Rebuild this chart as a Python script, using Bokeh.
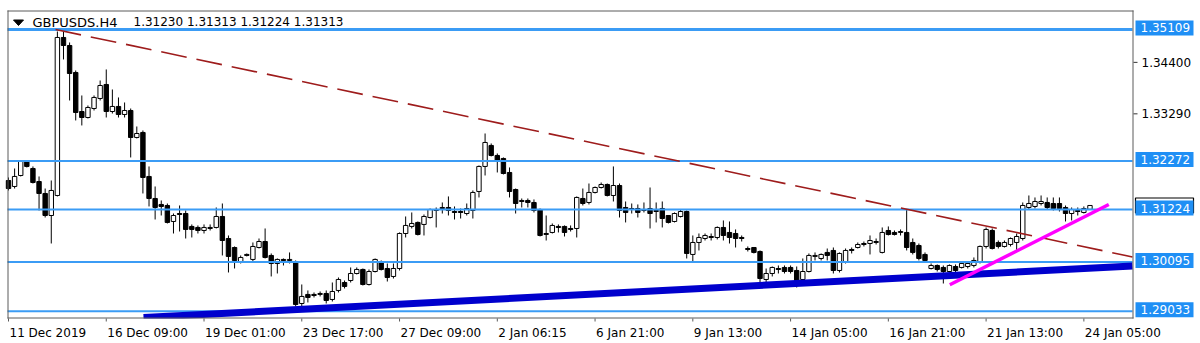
from bokeh.plotting import figure
from bokeh.models import Range1d, ColumnDataSource
from bokeh.core.properties import value
from bokeh.embed import file_html
from bokeh.resources import INLINE

symbol = "GBPUSDS.H4"
ohlc_text = "1.31230 1.31313 1.31224 1.31313"

opens = [1.31852, 1.31723, 1.31960, 1.32262, 1.32111, 1.31830, 1.31572, 1.31097, 1.31529, 1.34937,
         1.34764, 1.34182, 1.33340, 1.33211, 1.33405, 1.33621, 1.33923, 1.33340, 1.33449, 1.33276,
         1.33362, 1.32780, 1.32888, 1.31939, 1.31464, 1.31335, 1.31313, 1.30968, 1.31140, 1.31140,
         1.30861, 1.30839, 1.30774, 1.30817, 1.30839, 1.31076, 1.30601, 1.30407, 1.30105, 1.30235,
         1.30149, 1.30407, 1.30536, 1.30235, 1.30062, 1.30149, 1.30127, 1.30084, 1.29199, 1.29394,
         1.29394, 1.29394, 1.29415, 1.29286, 1.29480, 1.29652, 1.29695, 1.29846, 1.29933, 1.29609,
         1.29889, 1.30084, 1.29954, 1.29782, 1.29954, 1.30709, 1.30861, 1.30947, 1.30904, 1.31054,
         1.31205, 1.31248, 1.31270, 1.31183, 1.31183, 1.31140, 1.31205, 1.31615, 1.32155, 1.32608,
         1.32392, 1.32327, 1.32025, 1.31658, 1.31399, 1.31421, 1.31378, 1.31227, 1.30688, 1.30731,
         1.30861, 1.30861, 1.30817, 1.30817, 1.31464, 1.31378, 1.31594, 1.31701, 1.31766, 1.31529,
         1.31744, 1.31270, 1.31248, 1.31248, 1.31205, 1.31248, 1.31183, 1.31248, 1.31097, 1.30968,
         1.31076, 1.31183, 1.30257, 1.30515, 1.30601, 1.30644, 1.30623, 1.30839, 1.30731, 1.30709,
         1.30623, 1.30385, 1.30407, 1.30321, 1.29717, 1.29846, 1.29954, 1.29976, 1.29976, 1.29911,
         1.29717, 1.29889, 1.30214, 1.30170, 1.30300, 1.30343, 1.29911, 1.30084, 1.30364, 1.30407,
         1.30493, 1.30493, 1.30515, 1.30300, 1.30774, 1.30731, 1.30731, 1.30731, 1.30515, 1.30450,
         1.30257, 1.29954, 1.30019, 1.29976, 1.29889, 1.29997, 1.29976, 1.29997, 1.30019, 1.30084,
         1.30429, 1.30774, 1.30515, 1.30429, 1.30472, 1.30515, 1.30601, 1.31270, 1.31292, 1.31356,
         1.31378, 1.31356, 1.31356, 1.31270, 1.31140, 1.31205, 1.31162, 1.31230]

highs = [1.31917, 1.32111, 1.32284, 1.32284, 1.32155, 1.31939, 1.31679, 1.31852, 1.35066, 1.35088,
         1.34829, 1.34225, 1.33686, 1.33470, 1.33686, 1.34009, 1.34247, 1.33815, 1.33643, 1.33535,
         1.33405, 1.33017, 1.32931, 1.32155, 1.31723, 1.31421, 1.31356, 1.31140, 1.31313, 1.31205,
         1.30904, 1.30882, 1.30904, 1.30904, 1.31270, 1.31356, 1.30666, 1.30429, 1.30235, 1.30278,
         1.30515, 1.30601, 1.30817, 1.30278, 1.30170, 1.30170, 1.30300, 1.30127, 1.29609, 1.29480,
         1.29437, 1.29458, 1.29480, 1.29652, 1.29760, 1.29695, 1.29976, 1.29976, 1.29954, 1.29933,
         1.30170, 1.30127, 1.30062, 1.30062, 1.30731, 1.31076, 1.31162, 1.30968, 1.31119, 1.31248,
         1.31270, 1.31378, 1.31508, 1.31292, 1.31248, 1.31356, 1.31637, 1.32176, 1.32866, 1.32651,
         1.32435, 1.32349, 1.32133, 1.31679, 1.31464, 1.31464, 1.31443, 1.31248, 1.31097, 1.30925,
         1.30904, 1.30882, 1.30882, 1.31508, 1.31679, 1.31787, 1.31723, 1.31809, 1.31787, 1.32155,
         1.31787, 1.31399, 1.31356, 1.31335, 1.31378, 1.31701, 1.31378, 1.31399, 1.31097, 1.31162,
         1.31227, 1.31205, 1.30666, 1.30709, 1.30709, 1.30709, 1.30861, 1.30990, 1.30968, 1.30796,
         1.30666, 1.30429, 1.30407, 1.30343, 1.29954, 1.29997, 1.30019, 1.30019, 1.30019, 1.29997,
         1.30170, 1.30278, 1.30300, 1.30278, 1.30385, 1.30407, 1.30300, 1.30385, 1.30407, 1.30515,
         1.30536, 1.30666, 1.30601, 1.30839, 1.30861, 1.30774, 1.30796, 1.31227, 1.30601, 1.30493,
         1.30300, 1.30062, 1.30041, 1.30019, 1.30041, 1.30041, 1.30105, 1.30105, 1.30192, 1.30450,
         1.30839, 1.30817, 1.30558, 1.30558, 1.30623, 1.30709, 1.31378, 1.31529, 1.31486, 1.31529,
         1.31486, 1.31486, 1.31486, 1.31313, 1.31270, 1.31270, 1.31292, 1.31313]

lows = [1.31637, 1.31679, 1.31939, 1.32133, 1.31787, 1.31205, 1.31054, 1.30493, 1.31508, 1.34463,
        1.33578, 1.33147, 1.33039, 1.33189, 1.33362, 1.33578, 1.33211, 1.33297, 1.33211, 1.33211,
        1.32349, 1.32758, 1.31572, 1.31292, 1.31011, 1.31097, 1.30925, 1.30709, 1.30752, 1.30601,
        1.30623, 1.30709, 1.30709, 1.30774, 1.30817, 1.30235, 1.29868, 1.29954, 1.30062, 1.30214,
        1.30105, 1.30385, 1.30170, 1.29782, 1.29846, 1.30019, 1.30062, 1.29135, 1.29135, 1.29221,
        1.29329, 1.29351, 1.29199, 1.29242, 1.29437, 1.29523, 1.29652, 1.29825, 1.29587, 1.29587,
        1.29868, 1.29911, 1.29673, 1.29738, 1.29911, 1.30623, 1.30817, 1.30666, 1.30666, 1.31032,
        1.30839, 1.31140, 1.31097, 1.31011, 1.31032, 1.31097, 1.31032, 1.31486, 1.31960, 1.32371,
        1.32025, 1.31982, 1.31486, 1.31140, 1.31270, 1.31270, 1.31162, 1.30644, 1.30558, 1.30709,
        1.30731, 1.30644, 1.30752, 1.30623, 1.31313, 1.31335, 1.31572, 1.31679, 1.31508, 1.31399,
        1.31054, 1.30947, 1.31140, 1.31054, 1.31162, 1.30817, 1.30947, 1.30839, 1.30925, 1.30947,
        1.31054, 1.30170, 1.30084, 1.30343, 1.30558, 1.30558, 1.30580, 1.30558, 1.30493, 1.30407,
        1.30536, 1.30321, 1.30278, 1.29630, 1.29652, 1.29782, 1.29846, 1.29846, 1.29846, 1.29544,
        1.29652, 1.29868, 1.30127, 1.30127, 1.30127, 1.29846, 1.29868, 1.30062, 1.30278, 1.30385,
        1.30429, 1.30257, 1.30472, 1.30278, 1.30666, 1.30666, 1.30666, 1.30343, 1.30257, 1.30127,
        1.30084, 1.29933, 1.29889, 1.29630, 1.29868, 1.29868, 1.29954, 1.29954, 1.29976, 1.30062,
        1.30385, 1.30364, 1.30385, 1.30407, 1.30429, 1.30343, 1.30558, 1.31227, 1.31248, 1.31313,
        1.31227, 1.31205, 1.31183, 1.30968, 1.30990, 1.31097, 1.31140, 1.31224]

closes = [1.31679, 1.31939, 1.32262, 1.32155, 1.31809, 1.31572, 1.31097, 1.31637, 1.34937, 1.34764,
          1.34160, 1.33319, 1.33211, 1.33427, 1.33643, 1.33901, 1.33340, 1.33449, 1.33276, 1.33362,
          1.32780, 1.32866, 1.31917, 1.31464, 1.31270, 1.31292, 1.30947, 1.31097, 1.31119, 1.30796,
          1.30796, 1.30774, 1.30839, 1.30839, 1.31076, 1.30558, 1.30214, 1.30127, 1.30192, 1.30257,
          1.30429, 1.30536, 1.30192, 1.30062, 1.30149, 1.30127, 1.30149, 1.29178, 1.29351, 1.29329,
          1.29372, 1.29415, 1.29264, 1.29458, 1.29717, 1.29566, 1.29846, 1.29933, 1.29609, 1.29889,
          1.30149, 1.29933, 1.29760, 1.29954, 1.30709, 1.30882, 1.30925, 1.30688, 1.31076, 1.31227,
          1.31227, 1.31270, 1.31205, 1.31162, 1.31162, 1.31248, 1.31594, 1.32155, 1.32672, 1.32392,
          1.32284, 1.32003, 1.31615, 1.31356, 1.31421, 1.31378, 1.31205, 1.30666, 1.30709, 1.30882,
          1.30839, 1.30731, 1.30796, 1.31486, 1.31356, 1.31594, 1.31701, 1.31766, 1.31529, 1.31744,
          1.31205, 1.31162, 1.31227, 1.31162, 1.31227, 1.31140, 1.31205, 1.31032, 1.30947, 1.31140,
          1.31183, 1.30278, 1.30515, 1.30623, 1.30666, 1.30623, 1.30839, 1.30666, 1.30623, 1.30601,
          1.30601, 1.30364, 1.30300, 1.29738, 1.29846, 1.29976, 1.29933, 1.29889, 1.29889, 1.29695,
          1.29889, 1.30235, 1.30235, 1.30257, 1.30235, 1.29911, 1.30278, 1.30343, 1.30343, 1.30472,
          1.30472, 1.30558, 1.30536, 1.30731, 1.30688, 1.30688, 1.30752, 1.30407, 1.30300, 1.30170,
          1.30127, 1.30019, 1.29933, 1.29889, 1.30019, 1.29911, 1.30062, 1.30062, 1.30127, 1.30429,
          1.30796, 1.30385, 1.30429, 1.30515, 1.30601, 1.30644, 1.31313, 1.31356, 1.31399, 1.31399,
          1.31270, 1.31248, 1.31248, 1.31140, 1.31227, 1.31183, 1.31248, 1.31313]

time_tick_bars = [0, 16, 32, 48, 64, 80, 96, 112, 128, 144, 160, 176]
time_tick_labels = ["11 Dec 2019", "16 Dec 09:00", "19 Dec 01:00", "23 Dec 17:00",
                    "27 Dec 09:00", "2 Jan 06:15", "6 Jan 21:00", "9 Jan 13:00",
                    "14 Jan 05:00", "16 Jan 21:00", "21 Jan 13:00", "24 Jan 05:00"]
price_ticks = [1.34400, 1.33290]
price_tick_labels = ["1.34400", "1.33290"]
level_prices = [1.35109, 1.32272, 1.31224, 1.30095, 1.29033]
level_labels = ["1.35109", "1.32272", "1.31224", "1.30095", "1.29033"]
bid_price = 1.31313

resist_x = [7.7, 183.96]
resist_y = [1.35109, 1.30203]
support_x = [22.1, 183.96]
support_y = [1.28897, 1.30008]
pink_x = [154.06, 180.08]
pink_y = [1.29602, 1.31335]

FONT = "DejaVu Sans"
LEVEL_BLUE = "#3b9cf5"
BOX_BLUE = "#1f8ff5"
FRAME = "#5a5a5a"

# geometry of the page (pixels): frame 7..1132 x 10..318, 6.11 px per bar
W, H = 1200, 343
BAR_PX = 6.11
X0_PX = 8.0
PRICE_AT_TOP = 1.357345
PRICE_PER_PX = 0.0002157
BOX_LIFT = 1.5 * PRICE_PER_PX   # price boxes sit ~1.5 px above their line

idx = list(range(len(opens)))
up = [c >= o for o, c in zip(opens, closes)]
src = ColumnDataSource(dict(
    x=idx, high=highs, low=lows,
    top=[max(o, c) for o, c in zip(opens, closes)],
    bottom=[min(o, c) for o, c in zip(opens, closes)],
    fill=["white" if u else "black" for u in up],
))

p = figure(width=W, height=H,
           x_range=Range1d(-X0_PX / BAR_PX, (W - X0_PX) / BAR_PX),
           y_range=Range1d(PRICE_AT_TOP - H * PRICE_PER_PX, PRICE_AT_TOP),
           output_backend="svg", toolbar_location=None,
           x_axis_location=None, y_axis_location=None,
           min_border=0, min_border_left=0, min_border_right=0,
           min_border_top=0, min_border_bottom=0)
p.extra_x_ranges = {"px": Range1d(0, W)}
p.extra_y_ranges = {"py": Range1d(H, 0)}
p.grid.visible = False
p.outline_line_color = None
p.background_fill_color = "white"
p.border_fill_color = "white"

# candles
p.segment(x0="x", y0="high", x1="x", y1="low", source=src, line_color="black", line_width=1)
p.vbar(x="x", width=0.72, top="top", bottom="bottom", source=src,
       fill_color="fill", line_color="black", line_width=1)

# horizontal levels (end at the right border of the chart area)
p.segment(x0=[7] * 5, x1=[1132] * 5, y0=level_prices, y1=level_prices,
          line_color=LEVEL_BLUE, line_width=[3, 2, 2, 2, 2], x_range_name="px")

# trend lines
p.line(resist_x, resist_y, line_color="#9e1c1c", line_width=1.6, line_dash="26 10")
p.line(support_x, support_y, line_color="#0000cd", line_width=7)
p.line(pink_x, pink_y, line_color="#ff00ff", line_width=3.5)

# white margins outside the chart area
p.quad(left=[0, 1133], right=[W, W], top=[318, 0], bottom=[H, H],
       fill_color="white", line_color=None, x_range_name="px", y_range_name="py")

# chart frame
p.segment(x0=[7.5, 7, 1132.5, 7], x1=[7.5, 1133, 1132.5, 1133],
          y0=[10, 10.5, 10, 317.5], y1=[318, 10.5, 318, 317.5],
          line_color=FRAME, line_width=1, x_range_name="px", y_range_name="py")

# time scale
p.segment(x0=time_tick_bars, x1=time_tick_bars, y0=[318] * 12, y1=[321] * 12,
          line_color=FRAME, line_width=1, y_range_name="py")
p.text(x=time_tick_bars, y=[332] * 12, text=time_tick_labels, x_offset=1,
       text_font=value(FONT), text_font_size="12px", text_color="black",
       text_align="left", text_baseline="middle", y_range_name="py")

# price scale
p.segment(x0=[1133] * 2, x1=[1137] * 2, y0=price_ticks, y1=price_ticks,
          line_color="#333333", line_width=1, x_range_name="px")
p.text(x=[1141] * 2, y=price_ticks, text=price_tick_labels,
       text_font=value(FONT), text_font_size="12px", text_color="black",
       text_align="left", text_baseline="middle", x_range_name="px")

p.rect(x=[1164], y=[bid_price], width=[58], height=[15], height_units="screen",
       fill_color="white", line_color="black", line_width=1.2, x_range_name="px")
box_y = [lv + BOX_LIFT for lv in level_prices]
p.rect(x=[1164] * 5, y=box_y, width=[58] * 5, height=[15] * 5, height_units="screen",
       fill_color=BOX_BLUE, line_color=None, x_range_name="px")
p.text(x=[1140] * 5, y=box_y, text=level_labels,
       text_font=value(FONT), text_font_size="12px", text_color="white",
       text_align="left", text_baseline="middle", x_range_name="px")

# title
p.patch(x=[13, 23, 18], y=[19.5, 19.5, 25], fill_color="black", line_color="black",
        x_range_name="px", y_range_name="py")
p.text(x=[32], y=[21.5], text=[symbol],
       text_font=value(FONT), text_font_size="13px", text_color="black",
       text_align="left", text_baseline="middle", x_range_name="px", y_range_name="py")
p.text(x=[133], y=[21.5], text=[ohlc_text],
       text_font=value(FONT), text_font_size="12px", text_color="black",
       text_align="left", text_baseline="middle", x_range_name="px", y_range_name="py")

open("out.html", "w").write(file_html(p, INLINE))
